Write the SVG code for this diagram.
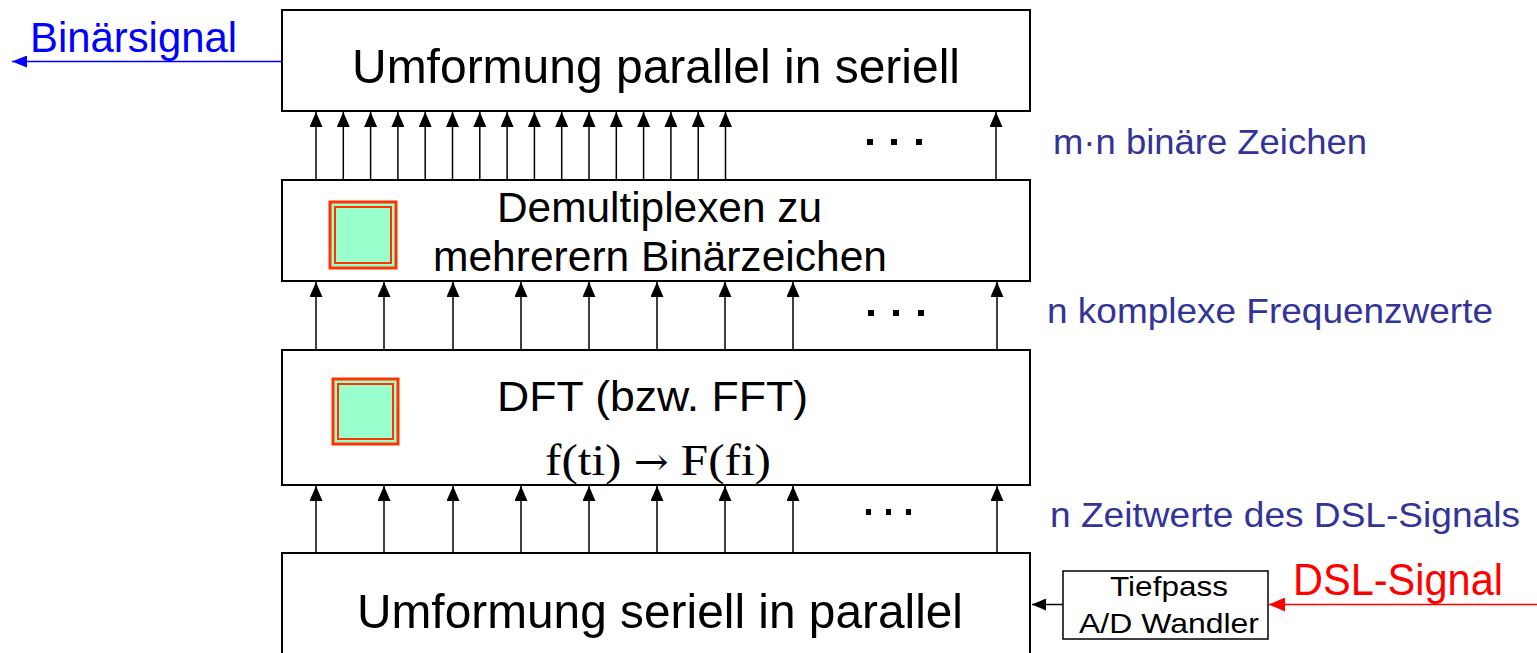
<svg xmlns="http://www.w3.org/2000/svg" width="1537" height="653" viewBox="0 0 1537 653">
<style>
.box{fill:#fff;stroke:#000;stroke-width:2}
.t{font-family:"Liberation Sans",Arial,sans-serif;fill:#000}
.lbl{font-family:"Liberation Sans",Arial,sans-serif;fill:#333399;font-size:35px}
.ar{stroke:#000;stroke-width:1.5;fill:none;marker-end:url(#ah)}
.sq{fill:#99ffcc;stroke:#ff3300;stroke-width:3}
.sqi{fill:none;stroke:#ff3300;stroke-width:2}
.dot{fill:#000}
</style>
<defs>
<marker id="ah" viewBox="0 0 15 13" refX="15" refY="6.5" markerWidth="15" markerHeight="13" orient="auto" markerUnits="userSpaceOnUse">
<path d="M0,0 L15,6.5 L0,13 Z" fill="#000"/>
</marker>
<marker id="ahb" viewBox="0 0 15 12" refX="15" refY="6" markerWidth="15" markerHeight="12" orient="auto" markerUnits="userSpaceOnUse">
<path d="M0,0 L15,6 L0,12 Z" fill="#0000ff"/>
</marker>
<marker id="ahr" viewBox="0 0 16 14" refX="16" refY="7" markerWidth="16" markerHeight="14" orient="auto" markerUnits="userSpaceOnUse">
<path d="M0,0 L16,7 L0,14 Z" fill="#ff0000"/>
</marker>
<marker id="ahk" viewBox="0 0 14 12" refX="14" refY="6" markerWidth="14" markerHeight="12" orient="auto" markerUnits="userSpaceOnUse">
<path d="M0,0 L14,6 L0,12 Z" fill="#000"/>
</marker>
</defs>

<g id="connectors">
<line class="ar" x1="316" y1="180" x2="316" y2="112"/>
<line class="ar" x1="343.3" y1="180" x2="343.3" y2="112"/>
<line class="ar" x1="370.6" y1="180" x2="370.6" y2="112"/>
<line class="ar" x1="397.9" y1="180" x2="397.9" y2="112"/>
<line class="ar" x1="425.2" y1="180" x2="425.2" y2="112"/>
<line class="ar" x1="452.5" y1="180" x2="452.5" y2="112"/>
<line class="ar" x1="479.8" y1="180" x2="479.8" y2="112"/>
<line class="ar" x1="507.1" y1="180" x2="507.1" y2="112"/>
<line class="ar" x1="534.4" y1="180" x2="534.4" y2="112"/>
<line class="ar" x1="561.7" y1="180" x2="561.7" y2="112"/>
<line class="ar" x1="589" y1="180" x2="589" y2="112"/>
<line class="ar" x1="616.3" y1="180" x2="616.3" y2="112"/>
<line class="ar" x1="643.6" y1="180" x2="643.6" y2="112"/>
<line class="ar" x1="670.9" y1="180" x2="670.9" y2="112"/>
<line class="ar" x1="698.2" y1="180" x2="698.2" y2="112"/>
<line class="ar" x1="725.5" y1="180" x2="725.5" y2="112"/>
<line class="ar" x1="996" y1="180" x2="996" y2="112"/>
<line class="ar" x1="316" y1="350" x2="316" y2="282"/>
<line class="ar" x1="384" y1="350" x2="384" y2="282"/>
<line class="ar" x1="453" y1="350" x2="453" y2="282"/>
<line class="ar" x1="521" y1="350" x2="521" y2="282"/>
<line class="ar" x1="589" y1="350" x2="589" y2="282"/>
<line class="ar" x1="657" y1="350" x2="657" y2="282"/>
<line class="ar" x1="725" y1="350" x2="725" y2="282"/>
<line class="ar" x1="793" y1="350" x2="793" y2="282"/>
<line class="ar" x1="997" y1="350" x2="997" y2="282"/>
<line class="ar" x1="316" y1="553" x2="316" y2="486"/>
<line class="ar" x1="384" y1="553" x2="384" y2="486"/>
<line class="ar" x1="453" y1="553" x2="453" y2="486"/>
<line class="ar" x1="521" y1="553" x2="521" y2="486"/>
<line class="ar" x1="589" y1="553" x2="589" y2="486"/>
<line class="ar" x1="657" y1="553" x2="657" y2="486"/>
<line class="ar" x1="725" y1="553" x2="725" y2="486"/>
<line class="ar" x1="793" y1="553" x2="793" y2="486"/>
<line class="ar" x1="997" y1="553" x2="997" y2="486"/>
<line x1="282" y1="61.5" x2="12" y2="61.5" stroke="#0000ff" stroke-width="1.5" marker-end="url(#ahb)"/>
<line x1="1537" y1="604.5" x2="1269" y2="604.5" stroke="#ff0000" stroke-width="1.5" marker-end="url(#ahr)"/>
<line x1="1063" y1="604.5" x2="1032" y2="604.5" stroke="#000" stroke-width="1.5" marker-end="url(#ahk)"/>
</g>

<g id="node-pts">
<rect class="box" x="282" y="10" width="748" height="101"/>
<text class="t" x="352" y="83" font-size="49" textLength="608" lengthAdjust="spacingAndGlyphs">Umformung parallel in seriell</text>
</g>

<g id="node-demux">
<rect class="box" x="282" y="180" width="748" height="101"/>
<rect class="sq" x="330" y="202" width="66" height="66"/>
<rect class="sqi" x="335" y="207" width="56" height="56"/>
<text class="t" x="497" y="222" font-size="42" textLength="325" lengthAdjust="spacingAndGlyphs">Demultiplexen zu</text>
<text class="t" x="433" y="271" font-size="42" textLength="454" lengthAdjust="spacingAndGlyphs">mehrerern Binärzeichen</text>
</g>

<g id="node-dft">
<rect class="box" x="282" y="350" width="748" height="135"/>
<rect class="sq" x="333" y="379" width="65" height="65"/>
<rect class="sqi" x="338" y="384" width="55" height="55"/>
<text class="t" x="497" y="411" font-size="43" textLength="311" lengthAdjust="spacingAndGlyphs">DFT (bzw. FFT)</text>
<text x="545" y="475" font-size="45" textLength="226" lengthAdjust="spacingAndGlyphs" font-family="'Liberation Serif','Times New Roman',serif" fill="#000">f(ti) <tspan font-family="'DejaVu Serif',serif" font-size="38">→</tspan> F(fi)</text>
</g>

<g id="node-stp">
<rect class="box" x="282" y="553" width="748" height="110"/>
<text class="t" x="357" y="628" font-size="49" textLength="606" lengthAdjust="spacingAndGlyphs">Umformung seriell in parallel</text>
</g>

<g id="node-tiefpass">
<rect x="1063" y="571" width="205" height="68" fill="#fff" stroke="#000" stroke-width="1.5"/>
<text class="t" x="1110" y="596" font-size="28" textLength="118" lengthAdjust="spacingAndGlyphs">Tiefpass</text>
<text class="t" x="1079" y="633" font-size="28" textLength="180" lengthAdjust="spacingAndGlyphs">A/D Wandler</text>
</g>

<g id="dots">
<rect class="dot" x="867" y="139" width="6" height="6"/>
<rect class="dot" x="891" y="139" width="6" height="6"/>
<rect class="dot" x="916" y="139" width="6" height="6"/>
<rect class="dot" x="868" y="310" width="6" height="6"/>
<rect class="dot" x="893" y="310" width="6" height="6"/>
<rect class="dot" x="918" y="310" width="6" height="6"/>
<rect class="dot" x="866" y="509" width="5" height="6"/>
<rect class="dot" x="886" y="509" width="5" height="6"/>
<rect class="dot" x="906" y="509" width="5" height="6"/>
</g>

<g id="labels">
<text x="30" y="52" font-size="42" textLength="207" lengthAdjust="spacingAndGlyphs" font-family="'Liberation Sans',Arial,sans-serif" fill="#0000ff">Binärsignal</text>
<text class="lbl" x="1053" y="154" textLength="314" lengthAdjust="spacingAndGlyphs">m·n binäre Zeichen</text>
<text class="lbl" x="1047" y="323" textLength="446" lengthAdjust="spacingAndGlyphs">n komplexe Frequenzwerte</text>
<text class="lbl" x="1050" y="527" textLength="470" lengthAdjust="spacingAndGlyphs">n Zeitwerte des DSL-Signals</text>
<text x="1293" y="595" font-size="44" textLength="210" lengthAdjust="spacingAndGlyphs" font-family="'Liberation Sans',Arial,sans-serif" fill="#ff0000">DSL-Signal</text>
</g>
</svg>
